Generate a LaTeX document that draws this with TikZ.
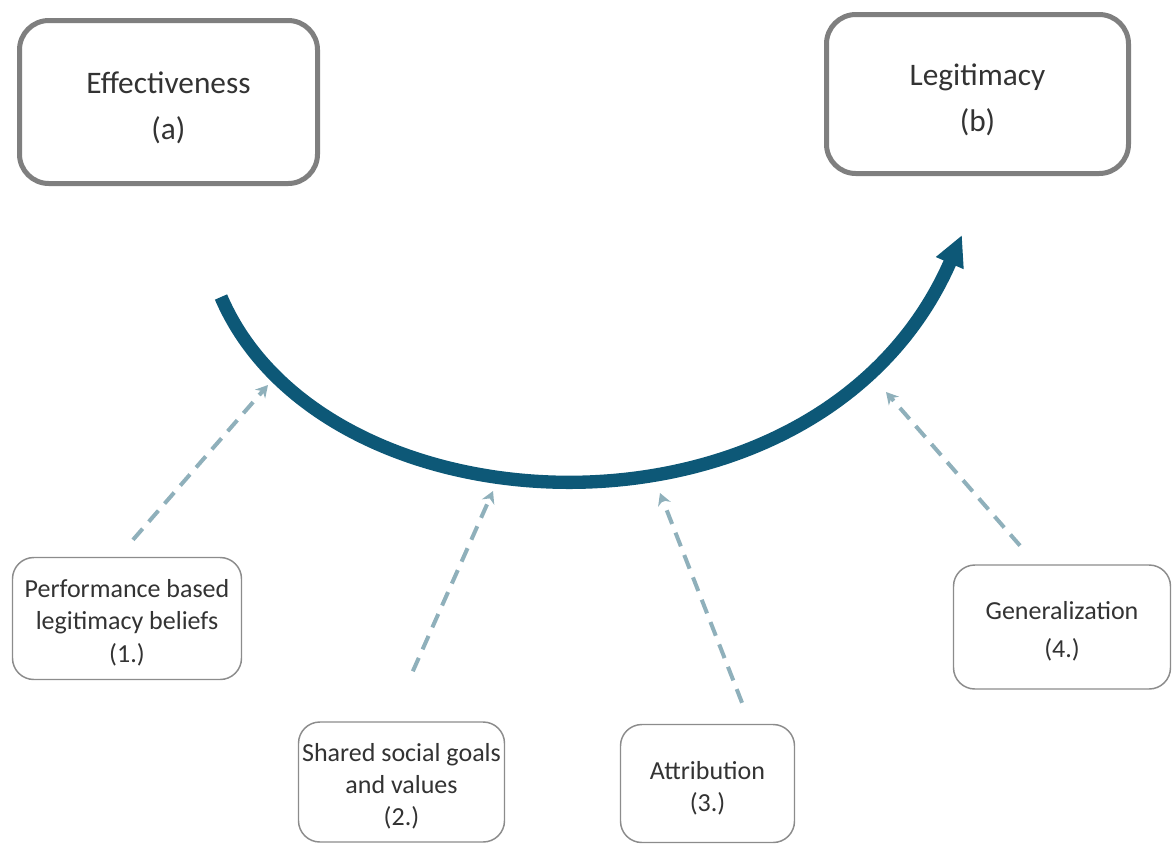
\documentclass[tikz,border=0pt]{standalone}
\usepackage{fontspec}
\setmainfont{Carlito}
\usetikzlibrary{arrows.meta}
\definecolor{flow}{HTML}{0D5877}
\definecolor{hint}{HTML}{8FB0BB}
\definecolor{frame}{HTML}{7F7F7F}
\definecolor{thinframe}{HTML}{8C8C8C}
\definecolor{ink}{HTML}{333333}
% taller first line, lowering the text block a little inside its box
\newcommand{\bigtop}{\rule{0pt}{25pt}}
\newcommand{\smalltop}{\rule{0pt}{20pt}}
\tikzset{
  stage/.style={draw=frame, line width=3.75pt, rounded corners=22pt, fill=white,
    inner sep=0pt, align=center, text=ink, font=\fontsize{23.5}{34.5}\selectfont},
  factor/.style={draw=thinframe, line width=1.1pt, rounded corners=16pt, fill=white,
    inner sep=0pt, align=center, text=ink, font=\fontsize{19.5}{24}\selectfont},
  mainflow/.style={draw=flow, line width=10pt, line cap=butt,
    -{Triangle[length=23pt, width=21pt]}},
  influence/.style={draw=hint, line width=3pt, dash pattern=on 11pt off 7pt,
    -{Stealth[length=9pt, width=10pt]}}
}
\begin{document}
\begin{tikzpicture}[x=0.75pt, y=-0.75pt]
  \useasboundingbox (0,0) rectangle (1172,844);

  % outcome boxes
  \node[stage, minimum width=223.5pt, minimum height=122.25pt] (eff) at (168.5,102)
    {\bigtop Effectiveness\\(a)};
  \node[stage, minimum width=226.5pt, minimum height=119.25pt] (leg) at (977.5,94)
    {\bigtop Legitimacy\\(b)};

  % mechanism boxes
  \node[factor, minimum width=171.75pt, minimum height=91.5pt] (m1) at (127,618.5)
    {\smalltop Performance based\\legitimacy beliefs\\[1pt](1.)};
  \node[factor, minimum width=154.5pt, minimum height=90pt] (m2) at (401.5,782)
    {\smalltop Shared social goals\\and values\\(2.)};
  \node[factor, minimum width=130.5pt, minimum height=88.5pt] (m3) at (707.5,783.5)
    {\smalltop Attribution\\(3.)};
  \node[factor, minimum width=162.75pt, minimum height=93pt] (m4) at (1062,627)
    {\smalltop Generalization\\[5pt](4.)};

  % path from effectiveness to legitimacy
  \coordinate (from) at (221,297);
  \coordinate (to) at (962,235);
  \draw[mainflow] (from) .. controls (325,540) and (820,560) .. (to);

  % points on the curve that each mechanism feeds into
  \coordinate (t1) at (268,385);
  \coordinate (t2) at (493,491);
  \coordinate (t3) at (660,493);
  \coordinate (t4) at (886,392);

  \coordinate (s1) at ([xshift=4.5pt, yshift=12.75pt]m1.north);
  \coordinate (s2) at ([xshift=8.5pt, yshift=37.5pt]m2.north);
  \coordinate (s3) at ([xshift=25.9pt, yshift=15.75pt]m3.north);
  \coordinate (s4) at ([xshift=-31.5pt, yshift=14pt]m4.north);

  \draw[influence] (s1) -- (t1);
  \draw[influence] (s2) -- (t2);
  \draw[influence] (s3) -- (t3);
  \draw[influence] (s4) -- (t4);
\end{tikzpicture}
\end{document}
